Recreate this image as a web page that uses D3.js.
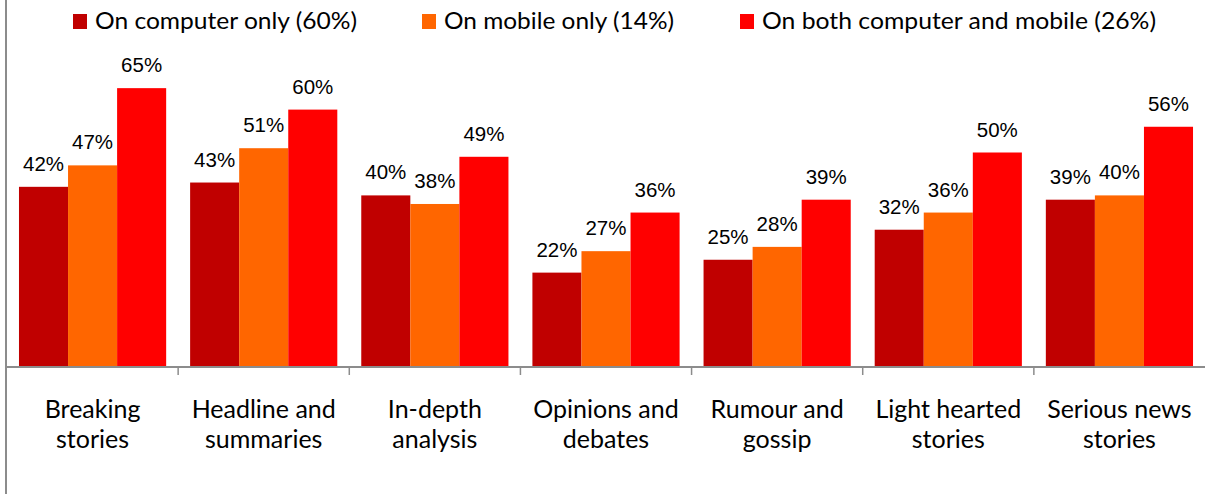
<!DOCTYPE html>
<html>
<head>
<meta charset="utf-8">
<script src="https://cdn.jsdelivr.net/npm/d3@7"></script>
<style>
  body { margin: 0; background: #fff; }
  svg { display: block; }
</style>
</head>
<body>
<div id="chart"></div>
<script>
// Data
var categories = [
  ["Breaking", "stories"],
  ["Headline and", "summaries"],
  ["In-depth", "analysis"],
  ["Opinions and", "debates"],
  ["Rumour and", "gossip"],
  ["Light hearted", "stories"],
  ["Serious news", "stories"]
];
var seriesNames = ["On computer only (60%)", "On mobile only (14%)", "On both computer and mobile (26%)"];
var computerOnly = [42, 43, 40, 22, 25, 32, 39];
var mobileOnly = [47, 51, 38, 27, 28, 36, 40];
var bothDevices = [65, 60, 49, 36, 39, 50, 56];
var seriesColors = ["#C00000", "#FF6600", "#FF0000"];

var width = 1205, height = 494;
var baseY = 367;

var svg = d3.select("#chart")
    .append("svg")
    .attr("width", width)
    .attr("height", height);

var seriesValues = [computerOnly, mobileOnly, bothDevices];
var data = categories.map(function(c, i) {
    return {
        key: c.join(" "),
        lines: c,
        values: seriesValues.map(function(s, j) { return {series: j, value: s[i]}; })
    };
});

// X scales
var x = d3.scaleBand()
    .domain(data.map(d => d.key))
    .range([7, 1205])
    .paddingInner(0.14)
    .paddingOuter(0.07);

var xSub = d3.scaleBand()
    .domain([0, 1, 2])
    .range([0, x.bandwidth()]);

// Y scale
var y = d3.scaleLinear()
    .domain([0, 70])
    .range([baseY, baseY - 70 * 4.29]);

// Bars
var groups = svg.append("g")
    .selectAll("g")
    .data(data)
    .enter()
    .append("g")
    .attr("transform", d => "translate(" + x(d.key) + ",0)");

groups.selectAll("rect")
    .data(d => d.values)
    .enter()
    .append("rect")
    .attr("x", d => xSub(d.series))
    .attr("y", d => y(d.value))
    .attr("width", xSub.bandwidth())
    .attr("height", d => y(0) - y(d.value))
    .attr("fill", d => seriesColors[d.series]);

// Value labels
groups.selectAll("text")
    .data(d => d.values)
    .enter()
    .append("text")
    .attr("x", d => xSub(d.series) + xSub.bandwidth() / 2)
    .attr("y", d => y(d.value) - 16)
    .attr("text-anchor", "middle")
    .style("font-family", "'Liberation Sans', Arial, sans-serif")
    .style("font-size", "20.5px")
    .style("fill", "#000")
    .text(d => d.value + "%");

// Baseline axis with ticks between categories
var step = x.step();
var x0 = x.range()[0];
svg.append("line")
    .attr("x1", 7).attr("x2", width)
    .attr("y1", baseY).attr("y2", baseY)
    .attr("stroke", "#8c8c8c")
    .attr("stroke-width", 2);

svg.append("g")
    .selectAll("line")
    .data(d3.range(1, categories.length))
    .enter()
    .append("line")
    .attr("x1", i => x0 + i * step)
    .attr("x2", i => x0 + i * step)
    .attr("y1", baseY)
    .attr("y2", baseY + 8)
    .attr("stroke", "#8c8c8c")
    .attr("stroke-width", 1.5);

// Left vertical line
svg.append("line")
    .attr("x1", 6).attr("x2", 6)
    .attr("y1", 0).attr("y2", height)
    .attr("stroke", "#8c8c8c")
    .attr("stroke-width", 2);

// Category labels
var catLabels = svg.append("g")
    .selectAll("text")
    .data(data)
    .enter()
    .append("text")
    .attr("text-anchor", "middle")
    .style("font-family", "Lato, 'Open Sans', sans-serif")
    .style("font-size", "25px")
    .style("fill", "#000");

catLabels.selectAll("tspan")
    .data(d => d.lines.map(l => ({line: l, cx: x(d.key) + x.bandwidth() / 2})))
    .enter()
    .append("tspan")
    .attr("x", d => d.cx)
    .attr("y", (d, i) => 418 + i * 30)
    .text(d => d.line);

// Legend
var legendX = [73, 422, 740];
var legendW = [262, 230, 394];
var legend = svg.append("g");
seriesNames.forEach(function(name, i) {
    legend.append("rect")
        .attr("x", legendX[i])
        .attr("y", 14)
        .attr("width", 14)
        .attr("height", 15)
        .attr("fill", seriesColors[i]);
    legend.append("text")
        .attr("x", legendX[i] + 22)
        .attr("y", 29)
        .attr("textLength", legendW[i])
        .attr("lengthAdjust", "spacingAndGlyphs")
        .style("font-family", "Lato, 'Open Sans', sans-serif")
        .style("font-size", "23px")
        .style("fill", "#000")
        .text(name);
});
</script>
</body>
</html>
